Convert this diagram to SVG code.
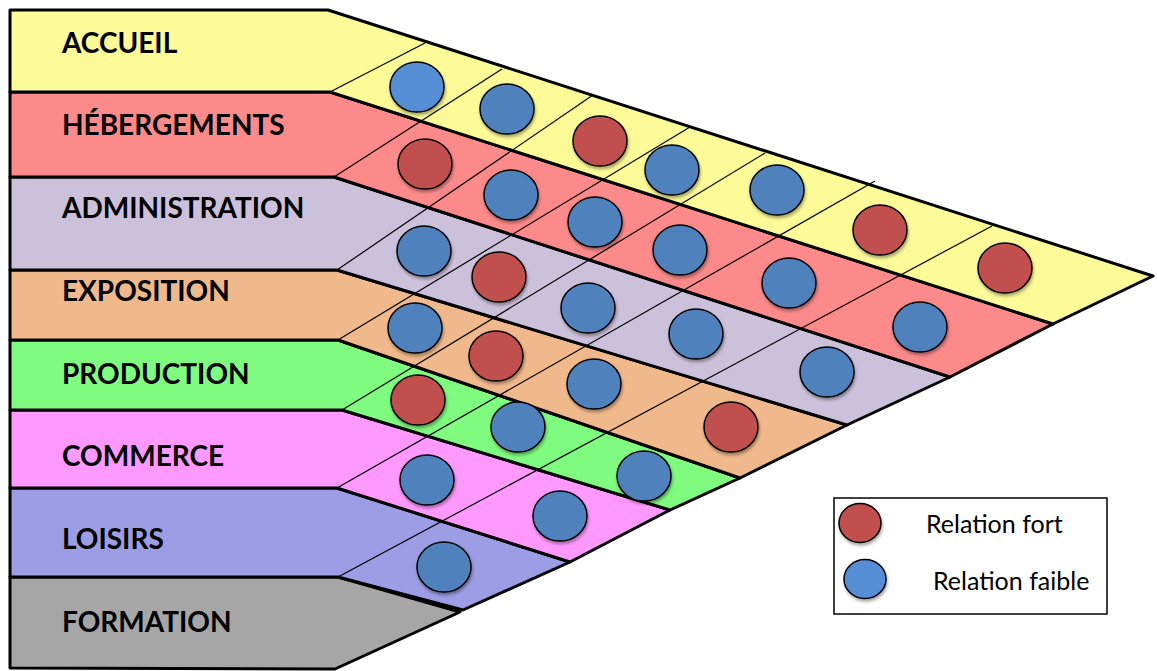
<svg xmlns="http://www.w3.org/2000/svg" width="1157" height="671" viewBox="0 0 1157 671">
  <defs>
    <filter id="sh" x="-30%" y="-30%" width="160%" height="170%">
      <feDropShadow dx="1" dy="2.5" stdDeviation="1.6" flood-color="#000" flood-opacity="0.35"/>
    </filter>
    <style>
      .band { stroke: #000; stroke-width: 3; stroke-linejoin: round; }
      .lbl { font-family: Lato, "Liberation Sans", sans-serif; font-weight: bold; font-size: 28px; fill: #000; }
      .div line { stroke: #000; stroke-width: 1.2; }
      .r { fill: #C0504D; stroke: #000; stroke-width: 1.5; filter: url(#sh); }
      .b { fill: #4F81BD; stroke: #000; stroke-width: 1.5; filter: url(#sh); }
      .lb { fill: #558ED5; stroke: #000; stroke-width: 1.5; filter: url(#sh); }
      .leg { font-family: Lato, "Liberation Sans", sans-serif; font-size: 25px; fill: #000; }
    </style>
  </defs>
  <rect width="1157" height="671" fill="#fff"/>

  <g id="formation">
    <polygon class="band" fill="#A6A6A6" points="10,577 338,577 460,612 335,669 10,668"/>
    <text class="lbl" x="62" y="632">FORMATION</text>
  </g>
  <g id="loisirs">
    <polygon class="band" fill="#9D9DE5" points="10,488 337,488 570,562 463,610 338,577 10,577"/>
    <text class="lbl" x="62" y="549">LOISIRS</text>
  </g>
  <g id="commerce">
    <polygon class="band" fill="#FF99FF" points="10,410 342,410 670,510 570,562 337,488 10,488"/>
    <text class="lbl" x="62" y="466">COMMERCE</text>
  </g>
  <g id="production">
    <polygon class="band" fill="#7FFB7F" points="10,340 338,340 740,478 670,510 342,410 10,410"/>
    <text class="lbl" x="62" y="384">PRODUCTION</text>
  </g>
  <g id="exposition">
    <polygon class="band" fill="#F0B98B" points="10,270 337,270 847,425 740,478 338,340 10,340"/>
    <text class="lbl" x="62" y="301">EXPOSITION</text>
  </g>
  <g id="administration">
    <polygon class="band" fill="#CCC1DA" points="10,177 334,177 950,377 847,425 337,270 10,270"/>
    <text class="lbl" x="62" y="218">ADMINISTRATION</text>
  </g>
  <g id="hebergements">
    <polygon class="band" fill="#FD8A8A" points="10,92 330,92 1053,324 950,377 334,177 10,177"/>
    <text class="lbl" x="62" y="135">HÉBERGEMENTS</text>
  </g>
  <g id="accueil">
    <polygon class="band" fill="#FDFB98" points="10,10 328,10 1153,276 1053,324 330,92 10,92"/>
    <text class="lbl" x="62" y="53">ACCUEIL</text>
  </g>

  <g id="connectors" class="div">
    <line x1="330" y1="92" x2="425" y2="43"/>
    <line x1="334" y1="177" x2="502" y2="69"/>
    <line x1="337" y1="270" x2="593" y2="95"/>
    <line x1="338" y1="340" x2="690" y2="127"/>
    <line x1="342" y1="410" x2="765" y2="153"/>
    <line x1="337" y1="488" x2="875" y2="181"/>
    <line x1="338" y1="577" x2="992" y2="226"/>
  </g>

  <g id="relations">
    <ellipse class="lb" cx="417" cy="87" rx="27" ry="25"/>
    <ellipse class="b" cx="507" cy="109" rx="27" ry="25"/>
    <ellipse class="r" cx="600" cy="141" rx="27" ry="25"/>
    <ellipse class="b" cx="672" cy="170" rx="27" ry="25"/>
    <ellipse class="b" cx="777" cy="190" rx="27" ry="25"/>
    <ellipse class="r" cx="880" cy="230" rx="27" ry="25"/>
    <ellipse class="r" cx="1005" cy="268" rx="27" ry="25"/>

    <ellipse class="r" cx="425" cy="164" rx="27" ry="25"/>
    <ellipse class="b" cx="511" cy="195" rx="27" ry="25"/>
    <ellipse class="b" cx="595" cy="222" rx="27" ry="25"/>
    <ellipse class="b" cx="680" cy="250" rx="27" ry="25"/>
    <ellipse class="b" cx="789" cy="283" rx="27" ry="25"/>
    <ellipse class="b" cx="920" cy="327" rx="27" ry="25"/>

    <ellipse class="b" cx="424" cy="251" rx="27" ry="25"/>
    <ellipse class="r" cx="499" cy="277" rx="27" ry="25"/>
    <ellipse class="b" cx="588" cy="308" rx="27" ry="25"/>
    <ellipse class="b" cx="696" cy="334" rx="27" ry="25"/>
    <ellipse class="b" cx="827" cy="372" rx="27" ry="25"/>

    <ellipse class="b" cx="415" cy="328" rx="27" ry="25"/>
    <ellipse class="r" cx="496" cy="356" rx="27" ry="25"/>
    <ellipse class="b" cx="594" cy="384" rx="27" ry="25"/>
    <ellipse class="r" cx="731" cy="427" rx="27" ry="25"/>

    <ellipse class="r" cx="418" cy="400" rx="27" ry="25"/>
    <ellipse class="b" cx="518" cy="427" rx="27" ry="25"/>
    <ellipse class="b" cx="644" cy="476" rx="27" ry="25"/>

    <ellipse class="b" cx="427" cy="480" rx="27" ry="25"/>
    <ellipse class="b" cx="560" cy="516" rx="27" ry="25"/>

    <ellipse class="b" cx="444" cy="567" rx="27" ry="25"/>
  </g>

  <g id="legend">
    <rect x="834" y="498" width="273" height="116" fill="#fff" stroke="#000" stroke-width="1.5"/>
    <ellipse class="r" cx="860" cy="523" rx="21" ry="19.5"/>
    <ellipse class="lb" cx="865" cy="579" rx="21" ry="19.5"/>
    <text class="leg" x="926" y="533">Relation fort</text>
    <text class="leg" x="933" y="590">Relation faible</text>
  </g>
</svg>
